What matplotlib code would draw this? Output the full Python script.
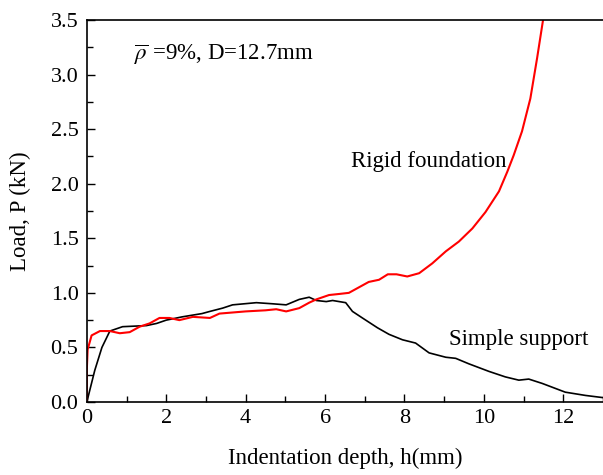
import numpy as np
import matplotlib
matplotlib.use("Agg")
import matplotlib.pyplot as plt
from matplotlib.ticker import MultipleLocator, FormatStrFormatter

plt.rcParams['font.family'] = ['Liberation Serif', 'DejaVu Serif']
plt.rcParams['mathtext.fontset'] = 'stix'

# Rigid foundation (red)
rigid_h = [0.0, 0.0, 0.02, 0.12, 0.33, 0.58, 0.83, 1.08, 1.33, 1.58, 1.83, 2.08,
           2.33, 2.67, 3.1, 3.34, 3.67, 4.0, 4.5, 4.77, 5.02, 5.35, 5.6, 5.78,
           6.1, 6.36, 6.6, 7.1, 7.36, 7.58, 7.8, 8.07, 8.37, 8.70, 9.04, 9.37,
           9.71, 10.04, 10.38, 10.59, 10.75, 10.96, 11.17, 11.34, 11.49]
rigid_p = [0.0, 0.3, 0.48, 0.61, 0.65, 0.65, 0.63, 0.64, 0.69, 0.72, 0.77, 0.77,
           0.75, 0.78, 0.77, 0.81, 0.82, 0.83, 0.84, 0.85, 0.83, 0.86, 0.91, 0.94,
           0.98, 0.99, 1.0, 1.1, 1.12, 1.17, 1.17, 1.15, 1.18, 1.27, 1.38, 1.47,
           1.59, 1.74, 1.93, 2.11, 2.26, 2.48, 2.78, 3.15, 3.5]

# Simple support (black)
simple_h = [0.0, 0.2, 0.38, 0.58, 0.9, 1.5, 1.76, 2.0, 2.4, 2.9, 3.1, 3.42, 3.67,
            4.27, 4.67, 5.02, 5.35, 5.6, 5.78, 6.03, 6.19, 6.52, 6.69, 6.94, 7.32,
            7.61, 7.95, 8.28, 8.62, 9.04, 9.29, 9.62, 10.13, 10.54, 10.88, 11.13,
            11.47, 12.05, 12.56, 13.0]
simple_p = [0.0, 0.29, 0.5, 0.65, 0.69, 0.7, 0.72, 0.75, 0.78, 0.81, 0.83, 0.86, 0.89,
            0.91, 0.9, 0.89, 0.94, 0.96, 0.93, 0.92, 0.93, 0.91, 0.83, 0.77, 0.68,
            0.62, 0.57, 0.54, 0.45, 0.41, 0.40, 0.35, 0.28, 0.23, 0.20, 0.21,
            0.17, 0.09, 0.06, 0.04]

fig = plt.figure(figsize=(6.03, 4.75), dpi=100)
ax = fig.add_axes([0.144, 0.1537, 0.856, 0.8042])

ax.plot(simple_h, simple_p, color='black', lw=1.2)
ax.plot(rigid_h, rigid_p, color='red', lw=1.5)

ax.set_xlim(0, 13)
ax.set_ylim(0, 3.5)
ax.xaxis.set_major_locator(MultipleLocator(2))
ax.xaxis.set_minor_locator(MultipleLocator(1))
ax.yaxis.set_major_locator(MultipleLocator(0.5))
ax.yaxis.set_minor_locator(MultipleLocator(0.25))
ax.yaxis.set_major_formatter(FormatStrFormatter('%.1f'))
ax.tick_params(which='both', direction='in', labelsize=16, width=1)
ax.tick_params(which='major', length=6)
ax.tick_params(which='minor', length=4)
ax.tick_params(axis='x', pad=5)
ax.tick_params(axis='y', pad=6)
ax.spines['right'].set_visible(False)
for s in ['left', 'bottom', 'top']:
    ax.spines[s].set_linewidth(1.2)

ax.set_xlabel('Indentation depth, h(mm)', fontsize=16.5, labelpad=14)
ax.set_ylabel('Load, P (kN)', fontsize=16.5, labelpad=14)

ax.text(1.18, 3.18, r'$\overline{\rho}$ =9%, D=12.7mm', fontsize=16.5, va='center')
ax.text(6.66, 2.2, 'Rigid foundation', fontsize=16.5, va='center')
ax.text(9.12, 0.57, 'Simple support', fontsize=16.5, va='center')

fig.savefig('out.png', dpi=100)
